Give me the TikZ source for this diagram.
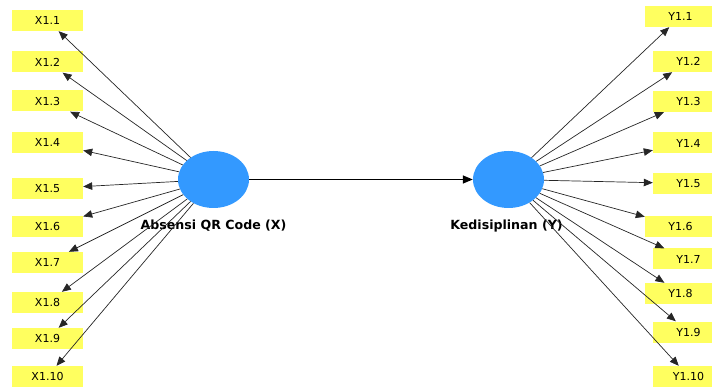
\documentclass[tikz,border=0pt]{standalone}
\usepackage{fontspec}
\setmainfont{DejaVu Sans}
\usetikzlibrary{arrows.meta,shapes.geometric}
\definecolor{boxyellow}{RGB}{255,255,95}
\definecolor{lvblue}{RGB}{51,153,255}
\begin{document}
\begin{tikzpicture}[x=1pt,y=-1pt,
  ind/.style={fill=boxyellow,draw=none,minimum width=71pt,minimum height=21pt,inner sep=0pt,font=\fontsize{11}{13}\selectfont},
  lv/.style={ellipse,fill=lvblue,draw=none,minimum width=71pt,minimum height=57pt,inner sep=0pt},
  lvlabel/.style={font=\bfseries\fontsize{12.6}{15}\selectfont,inner sep=0pt},
  load/.style={draw=black!85,line width=0.7pt,-{Triangle[length=9pt,width=7.5pt]}},
  path/.style={draw=black,line width=1.4pt,-{Triangle[length=10pt,width=8pt]}}
]
\useasboundingbox (0,0) rectangle (712,387);
\clip (0,0) rectangle (712,387);
% left indicators
\node[ind] (x1) at (47.5,20.5) {X1.1};
\node[ind] (x2) at (47.5,62) {X1.2};
\node[ind] (x3) at (47.5,101) {X1.3};
\node[ind] (x4) at (47.5,142.5) {X1.4};
\node[ind] (x5) at (47.5,188.5) {X1.5};
\node[ind] (x6) at (47.5,226.5) {X1.6};
\node[ind] (x7) at (47.5,262.5) {X1.7};
\node[ind] (x8) at (47.5,302.5) {X1.8};
\node[ind] (x9) at (47.5,338.5) {X1.9};
\node[ind] (x10) at (47.5,376.5) {X1.10};
% right indicators
\node[ind] (y1) at (680.5,16.5) {Y1.1};
\node[ind] (y2) at (688.5,61.5) {Y1.2};
\node[ind] (y3) at (688.5,101.5) {Y1.3};
\node[ind] (y4) at (688.5,143) {Y1.4};
\node[ind] (y5) at (688.5,183.5) {Y1.5};
\node[ind] (y6) at (680.5,226.5) {Y1.6};
\node[ind] (y7) at (688.5,259) {Y1.7};
\node[ind] (y8) at (680.5,293.5) {Y1.8};
\node[ind] (y9) at (688.5,332) {Y1.9};
\node[ind] (y10) at (688.5,376.5) {Y1.10};
% latent variables
\node[lv] (X) at (213.5,179.5) {};
\node[lv] (Y) at (508.5,179.5) {};
\node[lvlabel] (Xl) at (213.5,225.5) {Absensi QR Code (X)};
\node[lvlabel] (Yl) at (506.5,226) {Kedisiplinan (Y)};
% loadings
\foreach \i in {1,...,10} {
  \draw[load] (X) -- (x\i);
  \draw[load] (Y) -- (y\i);
}
\draw[path] (X) -- (Y);
\end{tikzpicture}
\end{document}
